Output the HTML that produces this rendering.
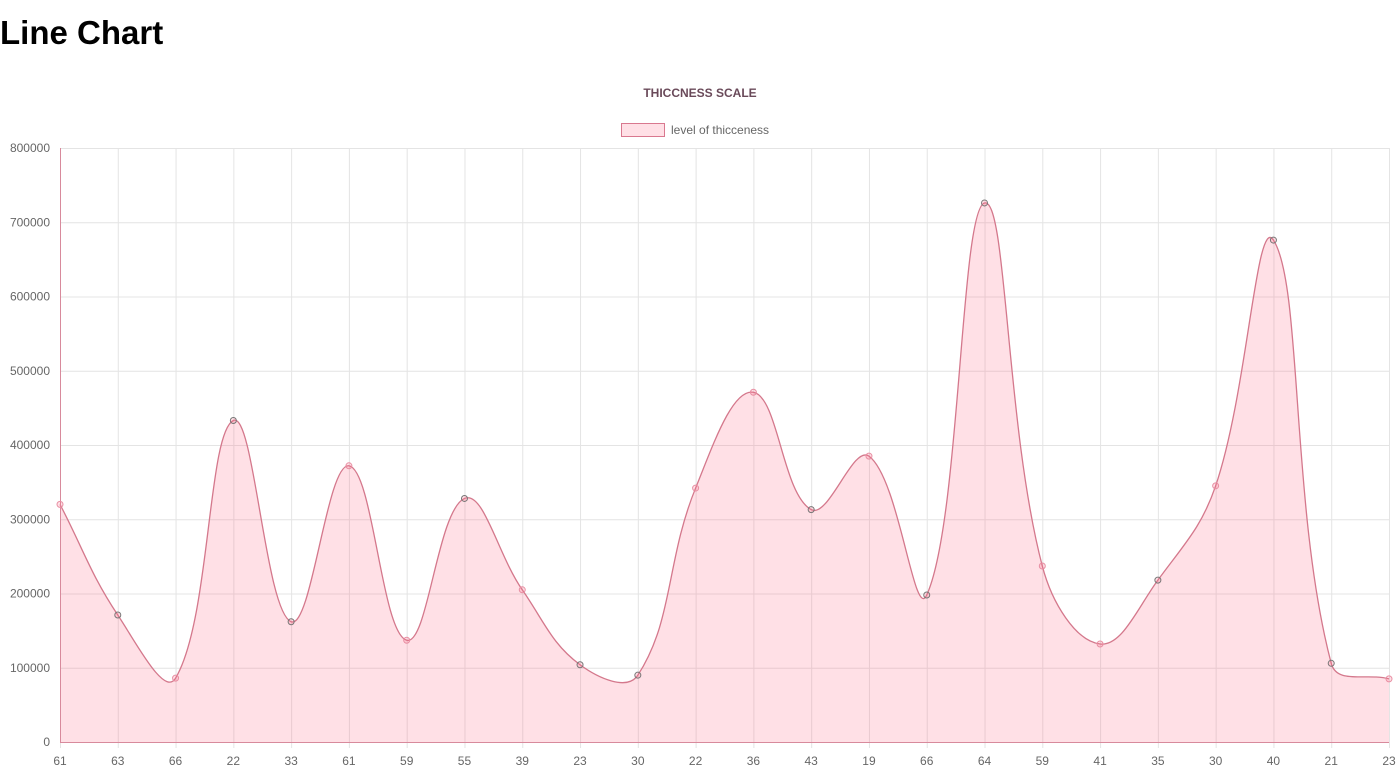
<!DOCTYPE html>
<html><head><meta charset="utf-8"><style>
body{margin:0;width:1400px;height:774px;background:#fff;overflow:hidden;font-family:"Liberation Sans",sans-serif}
h1{position:absolute;left:0;top:14px;margin:0;font-size:33px;font-weight:bold;color:#000}
</style></head><body>
<h1>Line Chart</h1>
<svg id="c" width="1400" height="774" style="position:absolute;left:0;top:0"></svg>
<script>
const categories=["61","63","66","22","33","61","59","55","39","23","30","22","36","43","19","66","64","59","41","35","30","40","21","23"];
const values=[320000,171000,86000,433000,162000,372000,137000,328000,205000,104000,90000,342000,471000,313000,385000,198000,726000,237000,132000,218000,345000,676000,106000,85000];
const yTicks=[0,100000,200000,300000,400000,500000,600000,700000,800000];
const pointGray=[false,true,false,true,true,false,false,true,false,true,true,false,false,true,false,true,true,false,false,true,false,true,true,false];
const svg=document.getElementById('c');const NS='http://www.w3.org/2000/svg';
const L=60,R=1389,T=148,B=742,YMAX=800000;
const x=i=>L+i*(R-L)/(categories.length-1);
const y=v=>B-v/YMAX*(B-T);
function el(t,a,txt){const e=document.createElementNS(NS,t);for(const k in a)e.setAttribute(k,a[k]);if(txt!==undefined)e.textContent=txt;svg.appendChild(e);return e;}
let e;
e=el('text',{x:700,y:97,'text-anchor':'middle','font-size':12,'font-weight':'bold',fill:'#6a4a5a'},'THICCNESS SCALE');


e=el('rect',{x:621.5,y:123.5,width:43,height:13,fill:'rgba(255,99,132,0.2)',stroke:'#d9788f','stroke-width':1});


e=el('text',{x:671,y:134,'font-size':12,fill:'#666'},'level of thicceness');


yTicks.forEach(v=>{
 e=el('line',{x1:L,x2:R,y1:y(v)+.5,y2:y(v)+.5,stroke:'#e4e4e4'});
 
 
 e=el('text',{x:50,y:y(v)+4,'text-anchor':'end','font-size':12,fill:'#666'},String(v));
 
 
});
categories.forEach((c,i)=>{
 e=el('line',{x1:x(i)+.5,x2:x(i)+.5,y1:T,y2:B+6,stroke:'#e4e4e4'});
 
 
 e=el('text',{x:x(i),y:765,'text-anchor':'middle','font-size':12,fill:'#666'},c);
 
 
});
// spline (Chart.js tension 0.4)
const pts=values.map((v,i)=>({x:x(i),y:y(v)}));
const t=0.4;const cps=pts.map((p,i)=>{
 const pr=pts[i-1]||p,nx=pts[i+1]||p;
 const d01=Math.hypot(p.x-pr.x,p.y-pr.y),d12=Math.hypot(nx.x-p.x,nx.y-p.y);
 let fa=d01/(d01+d12)||0,fb=d12/(d01+d12)||0;fa*=t;fb*=t;
 return {px:p.x-fa*(nx.x-pr.x),py:p.y-fa*(nx.y-pr.y),nx:p.x+fb*(nx.x-pr.x),ny:p.y+fb*(nx.y-pr.y)};
});
let d=`M${pts[0].x},${pts[0].y}`;
for(let i=1;i<pts.length;i++){d+=` C${cps[i-1].nx},${cps[i-1].ny} ${cps[i].px},${cps[i].py} ${pts[i].x},${pts[i].y}`;}
e=el('path',{d:d+` L${R},${B} L${L},${B} Z`,fill:'rgba(255,99,132,0.2)',stroke:'none'});


e=el('path',{d:d,fill:'none',stroke:'#d4788c','stroke-width':1.3});


e=el('line',{x1:L+.5,x2:L+.5,y1:T,y2:B,stroke:'#d88a9c'});


e=el('line',{x1:L,x2:R,y1:B+.5,y2:B+.5,stroke:'#d88a9c'});


pts.forEach((p,i)=>{
 e=el('circle',{cx:p.x,cy:p.y,r:3,fill:'rgba(255,99,132,0.2)',stroke:pointGray[i]?'#777':'#e88fa3','stroke-width':1});
 
 
});
</script>
</body></html>
